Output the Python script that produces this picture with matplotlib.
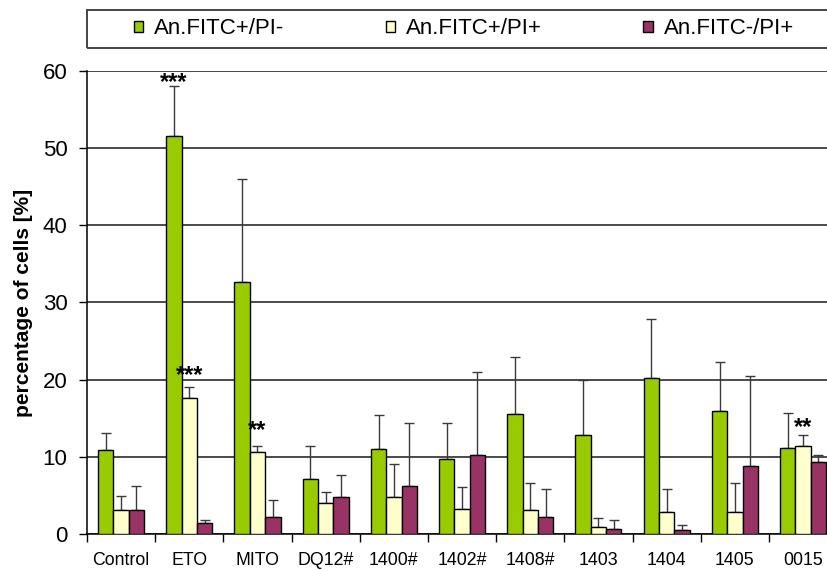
import numpy as np
import matplotlib.pyplot as plt
import matplotlib.patches as mpatches

plt.rcParams['font.family'] = ['Liberation Sans', 'DejaVu Sans']

# mean values and upper SD for each group
groups = ["Control", "ETO", "MITO", "DQ12#", "1400#", "1402#", "1408#",
          "1403", "1404", "1405", "0015"]
series = ["An.FITC+/PI-", "An.FITC+/PI+", "An.FITC-/PI+"]

fitc_pi_neg = [10.9, 51.5, 32.7, 7.1, 11.1, 9.7, 15.6, 12.9, 20.2, 15.9, 11.2]
fitc_pi_pos = [3.2, 17.7, 10.6, 4.1, 4.8, 3.3, 3.1, 0.9, 2.9, 2.9, 11.4]
pi_only = [3.2, 1.5, 2.3, 4.8, 6.3, 10.2, 2.3, 0.7, 0.6, 8.8, 9.4]

sd_fitc_pi_neg = [2.2, 6.5, 13.3, 4.3, 4.4, 4.7, 7.4, 7.1, 7.7, 6.4, 4.5]
sd_fitc_pi_pos = [1.7, 1.3, 0.8, 1.4, 4.3, 2.8, 3.5, 1.2, 2.9, 3.7, 1.5]
sd_pi_only = [3.1, 0.3, 2.1, 2.9, 8.1, 10.8, 3.5, 1.2, 0.6, 11.7, 0.9]

# significance marks: (group index, series index, label, text height)
signif = [(1, 0, "***", 57.6), (1, 1, "***", 19.7), (2, 1, "**", 12.6),
          (10, 1, "**", 13.0)]

colors = ["#99CC00", "#FFFFCC", "#993366"]
values = [fitc_pi_neg, fitc_pi_pos, pi_only]
errors = [sd_fitc_pi_neg, sd_fitc_pi_pos, sd_pi_only]

fig = plt.figure(figsize=(8.27, 5.71), dpi=100)
ax = fig.add_axes([0.1052, 0.0643, 0.9071, 0.812])

x = np.arange(len(groups))
w = 0.225
for i in range(3):
    pos = x + (i - 1) * w
    ax.bar(pos, values[i], w, color=colors[i], edgecolor="black",
           linewidth=1, label=series[i], zorder=3)
    ax.errorbar(pos, values[i], yerr=[np.zeros(len(groups)), errors[i]],
                fmt="none", ecolor="#3a3a3a", elinewidth=1, capsize=3.3,
                capthick=1, zorder=2)

for g, s, lab, yy in signif:
    ax.text(x[g] + (s - 1) * w, yy, lab, ha="center", va="baseline",
            fontsize=17, fontweight="bold")

ax.set_ylim(0, 60)
ax.set_xlim(-0.5, len(groups) - 0.5)
ax.set_yticks(np.arange(0, 61, 10))
ax.tick_params(axis="y", labelsize=16, length=6, width=1, pad=8,
               direction="out")
ax.set_xticks(np.arange(-0.5, len(groups), 1))
ax.set_xticklabels([])
ax.set_xticks(x, minor=True)
ax.set_xticklabels(groups, minor=True)
ax.tick_params(axis="x", which="major", length=6, width=1, direction="out")
ax.tick_params(axis="x", which="minor", length=0, labelsize=12.8, pad=13)

ax.yaxis.grid(True, color="#1a1a1a", linewidth=1.1, zorder=0)
ax.set_axisbelow(True)
for sp in ["top", "right"]:
    ax.spines[sp].set_visible(False)
ax.spines["left"].set_linewidth(1.1)
ax.spines["bottom"].set_linewidth(1.1)

fig.text(0.029, 1 - 303 / 571, "percentage of cells [%]", rotation=90,
         ha="center", va="center", fontsize=15, fontweight="bold")

# legend box across the top
fig.patches.append(mpatches.Rectangle((0.1048, 1 - 48 / 571), 1.0,
                                      38 / 571, transform=fig.transFigure,
                                      fill=False, edgecolor="#444444",
                                      linewidth=1.4))
handles, labels = ax.get_legend_handles_labels()
fig.legend(handles, labels, loc="center left",
           bbox_to_anchor=(134 / 827, 1 - 29 / 571), ncol=3, frameon=False,
           fontsize=16, handlelength=0.42, handleheight=0.42,
           handletextpad=0.5, columnspacing=4.55, borderpad=0,
           borderaxespad=0)

fig.savefig("out.png", dpi=100)
